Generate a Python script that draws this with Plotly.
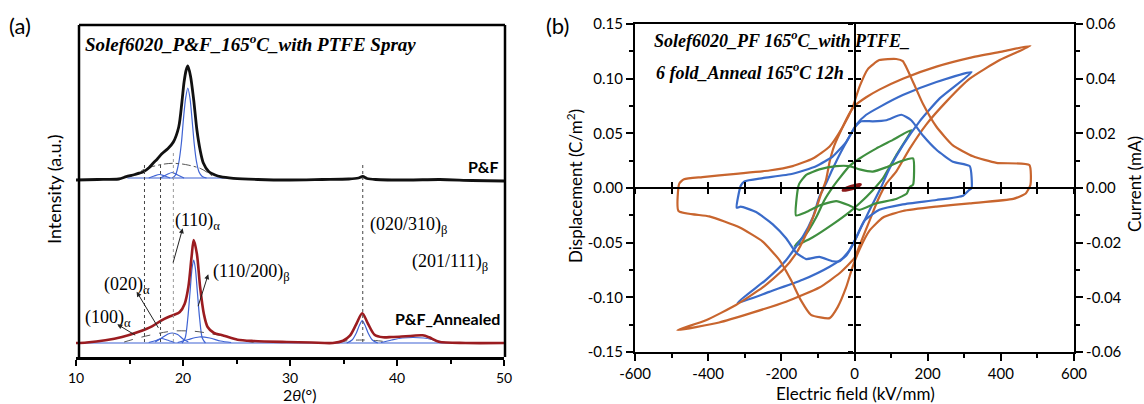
import plotly.graph_objects as go

# ================= DATA =================
# ---- Panel (a): XRD patterns (2theta in degrees, intensity in a.u.) ----
pf_tt = [10, 12, 14, 14.7, 15.5, 16.3, 16.8, 17.2, 17.6, 18.0, 18.6, 19.1, 19.6, 19.9, 20.1,
         20.3, 20.45, 20.7, 21.0, 21.3, 21.6, 21.9, 22.4, 23.0, 23.5, 24.7, 27, 30, 33, 35.5,
         36.4, 36.8, 37.2, 38, 41, 44, 47, 50]
pf_int = [0, 0.05, 0.1, 0.33, 0.55, 0.83, 1.2, 1.67, 2.1, 2.6, 3.15, 3.8, 5.3, 7.8, 9.8,
          11.0, 11.4, 10.4, 8.0, 5.0, 3.0, 1.7, 0.85, 0.5, 0.33, 0.17, 0.05, 0, 0.05, 0.1,
          0.2, 0.35, 0.15, 0.05, 0, 0.05, -0.05, -0.1]

pf_main_tt = [19.0, 19.3, 19.6, 19.85, 20.05, 20.25, 20.45, 20.65, 20.85, 21.05, 21.25, 21.5, 21.8, 22.2]
pf_main_int = [0.2, 0.5, 1.7, 3.7, 6.2, 8.2, 9.2, 8.2, 6.0, 3.6, 1.9, 0.8, 0.35, 0.2]
pf_a1_tt = [16.8, 17.3, 17.8, 18.3, 18.8]
pf_a1_int = [0.2, 0.4, 0.55, 0.4, 0.2]
pf_a2_tt = [17.9, 18.5, 19.0, 19.5, 20.1]
pf_a2_int = [0.2, 0.55, 0.75, 0.5, 0.2]
pf_base_tt = [14.8, 24.8]
pf_base_int = [0.2, 0.2]
pf_amorph_tt = [15.1, 16.6, 18.1, 19.0, 20.1, 21.6, 22.4, 22.9]
pf_amorph_int = [0.33, 1.17, 1.57, 1.67, 1.57, 1.17, 0.67, 0.27]

an_tt = [10, 11, 12.75, 14.3, 15.8, 17.1, 18.0, 18.8, 19.2, 19.7, 20.15, 20.5, 20.8, 21.0,
         21.3, 21.6, 21.95, 22.3, 22.9, 23.6, 24.0, 25.1, 26.6, 29.7, 32, 34.0, 34.96, 35.6,
         36.2, 36.75, 37.3, 37.9, 38.7, 39.5, 40.2, 41.5, 42.4, 43.0, 43.9, 46.4, 50]
an_int = [0, 0.05, 0.27, 0.6, 1.1, 1.67, 2.27, 2.67, 2.83, 3.1, 3.9, 5.6, 8.6, 10.3,
          8.9, 5.6, 2.9, 1.6, 1.0, 0.8, 0.67, 0.33, 0.2, 0.1, 0.05, 0, 0.23, 0.73,
          1.9, 2.97, 1.9, 0.83, 0.57, 0.6, 0.63, 0.73, 0.77, 0.57, 0.13, 0, 0]

an_beta_tt = [19.9, 20.2, 20.45, 20.65, 20.85, 21.0, 21.15, 21.35, 21.55, 21.8, 22.1]
an_beta_int = [0, 0.5, 2.5, 5.0, 7.5, 8.3, 7.5, 5.0, 2.5, 0.5, 0]
an_a020_tt = [17.4, 18.0, 18.6, 19.0, 19.5, 20.0, 20.5]
an_a020_int = [0.1, 0.5, 0.9, 1.0, 0.85, 0.4, 0.1]
an_a100_tt = [16.8, 17.5, 18.0, 18.5, 19.2]
an_a100_int = [0.05, 0.25, 0.45, 0.3, 0.05]
an_broad_tt = [19.5, 20.5, 21.5, 22.5, 23.5, 24.5]
an_broad_int = [0.05, 0.35, 0.6, 0.5, 0.2, 0.05]
an_amorph_tt = [14.5, 15.8, 17.4, 19.1, 21.1, 22.6, 24.2, 25.4, 26.6]
an_amorph_int = [0.1, 0.5, 0.9, 1.2, 1.17, 0.93, 0.6, 0.27, 0.07]
an_b020_tt = [35.3, 35.8, 36.2, 36.5, 36.75, 37.0, 37.3, 37.7, 38.2]
an_b020_int = [0, 0.3, 1.0, 1.8, 2.23, 1.8, 1.0, 0.3, 0]
an_b201_tt = [38.5, 39.5, 40.5, 41.5, 42.5, 43.5, 44.5]
an_b201_int = [0.05, 0.3, 0.5, 0.55, 0.5, 0.3, 0.05]
an_amorph2_tt = [34.5, 35.5, 36.8, 38.0, 39.5]
an_amorph2_int = [0.05, 0.25, 0.3, 0.25, 0.05]
an_base_tt = [10, 50]
an_base_int = [0, 0]

peak_lines_tt = [16.4, 17.9, 19.1, 36.8]

xrd_ticks = [10, 20, 30, 40, 50]
xrd_ticklabels = ["10", "20", "30", "40", "50"]

# ---- Panel (b): D-E loops (kV/mm, C/m^2) and current loops (mA) ----
pe_or_E = [481, 406, 315, 224, 132, 68, 32, 0, -14, -32, -55, -68, -78, -91, -110, -132, -160,
           -196, -251, -324, -406, -484, -370, -279, -187, -96, -41, 0, 18, 41, 64, 87, 114,
           151, 196, 251, 315, 397, 481]
pe_or_D = [0.130, 0.125, 0.119, 0.111, 0.100, 0.090, 0.083, 0.075, 0.068, 0.056, 0.039, 0.024,
           0.007, -0.005, -0.024, -0.042, -0.060, -0.075, -0.091, -0.107, -0.121, -0.130,
           -0.123, -0.114, -0.104, -0.091, -0.078, -0.064, -0.049, -0.030, -0.011, 0.004,
           0.015, 0.036, 0.058, 0.079, 0.100, 0.117, 0.130]
pe_bl_E = [320, 224, 132, 68, 32, 5, -14, -37, -59, -78, -96, -114, -142, -187, -242, -320,
           -233, -142, -68, -23, 0, 18, 46, 73, 96, 132, 178, 233, 320]
pe_bl_D = [0.106, 0.097, 0.085, 0.074, 0.067, 0.058, 0.047, 0.033, 0.018, 0.004, -0.008,
           -0.027, -0.045, -0.066, -0.084, -0.105, -0.095, -0.084, -0.072, -0.062, -0.049,
           -0.036, -0.017, 0.001, 0.018, 0.039, 0.061, 0.082, 0.106]
pe_gr_E = [155, 105, 59, 14, -14, -41, -59, -82, -105, -132, -164, -114, -59, -14, 14, 50, 78, 114, 155]
pe_gr_D = [0.053, 0.044, 0.036, 0.027, 0.020, 0.009, 0.001, -0.011, -0.027, -0.042, -0.053,
           -0.045, -0.033, -0.022, -0.014, -0.002, 0.009, 0.030, 0.053]
pe_dr_E = [-30, -10, 15, -5, -30]
pe_dr_D = [-0.002, 0.001, 0.003, 0.000, -0.002]

i_or_E = [-481, -479, -466, -416, -324, -233, -169, -114, -68, -32, -5, 14, 37, 68, 114, 132,
          160, 187, 224, 269, 324, 388, 478, 481, 468, 434, 315, 224, 132, 78, 41, 14, -5,
          -23, -46, -68, -119, -146, -174, -205, -251, -315, -397, -481]
i_or_I = [-0.0084, 0.0016, 0.0032, 0.0040, 0.0052, 0.0064, 0.0080, 0.0108, 0.0152, 0.0224,
          0.0296, 0.0372, 0.0436, 0.0468, 0.0472, 0.0464, 0.0388, 0.0308, 0.0224, 0.0156,
          0.0116, 0.0092, 0.0084, 0.0012, -0.0020, -0.0040, -0.0056, -0.0068, -0.0084,
          -0.0108, -0.0156, -0.0224, -0.0288, -0.0364, -0.0436, -0.0476, -0.0464, -0.0412,
          -0.0336, -0.0264, -0.0196, -0.0144, -0.0104, -0.0084]
i_bl_E = [-322, -311, -301, -251, -169, -105, -59, -23, 0, 18, 50, 87, 128, 155, 187, 224,
          269, 315, 320, 313, 297, 224, 132, 68, 27, 5, -14, -41, -59, -96, -132, -160, -187,
          -224, -269, -311, -322]
i_bl_I = [-0.0072, 0.0008, 0.0024, 0.0036, 0.0052, 0.0080, 0.0116, 0.0168, 0.0220, 0.0244,
          0.0244, 0.0248, 0.0268, 0.0248, 0.0192, 0.0140, 0.0096, 0.0080, 0.0000, -0.0008,
          -0.0028, -0.0044, -0.0060, -0.0080, -0.0120, -0.0180, -0.0228, -0.0268, -0.0268,
          -0.0252, -0.0260, -0.0236, -0.0184, -0.0132, -0.0088, -0.0068, -0.0072]
i_gr_E = [-160, -155, -151, -132, -96, -50, -14, 14, 50, 87, 123, 160, 160, 151, 143, 114, 59,
          14, -14, -50, -96, -132, -160]
i_gr_I = [-0.0100, -0.0004, 0.0016, 0.0048, 0.0068, 0.0080, 0.0080, 0.0068, 0.0060, 0.0076,
          0.0096, 0.0108, 0.0012, 0.0004, -0.0020, -0.0040, -0.0056, -0.0080, -0.0064,
          -0.0048, -0.0064, -0.0088, -0.0100]

e_ticks = [-600, -400, -200, 0, 200, 400, 600]
e_ticklabels = ["-600", "-400", "-200", "0", "200", "400", "600"]
d_ticks = [-0.15, -0.10, -0.05, 0.00, 0.05, 0.10, 0.15]
d_ticklabels = ["-0.15", "-0.10", "-0.05", "0.00", "0.05", "0.10", "0.15"]
i_ticks = [-0.06, -0.04, -0.02, 0.00, 0.02, 0.04, 0.06]
i_ticklabels = ["-0.06", "-0.04", "-0.02", "0.00", "0.02", "0.04", "0.06"]

# ================= STYLE / LAYOUT =================
W, H = 1144, 404
SANS = "Lato"
SERIF = "Liberation Serif"
PF_OFFSET = 16.3

BLACK = "#111111"
RED = "#9B1C20"
BLUE = "#3F63D3"
GRAY = "#555555"
OR = "#C8652E"
BL = "#3A6BC9"
GR = "#3F8F3F"
DR = "#8B1A1A"


def px(x):
    return x / W


def py(y):
    return 1 - y / H


fig = go.Figure()


def comp(x, y, color=BLUE, width=1.2, dash=None, off=0.0):
    fig.add_trace(go.Scatter(x=x, y=[v + off for v in y], mode="lines",
                             line=dict(color=color, width=width, dash=dash, shape="spline", smoothing=0.8),
                             xaxis="x", yaxis="y", hoverinfo="skip", showlegend=False))


# annealed components first (beneath curve)
comp(an_base_tt, an_base_int)
for tt, ii in [(an_beta_tt, an_beta_int), (an_a020_tt, an_a020_int), (an_a100_tt, an_a100_int),
               (an_broad_tt, an_broad_int), (an_b020_tt, an_b020_int), (an_b201_tt, an_b201_int)]:
    comp(tt, ii)
comp(an_amorph_tt, an_amorph_int, color=GRAY, width=1, dash="dash")
comp(an_amorph2_tt, an_amorph2_int, color=GRAY, width=1, dash="dash")
comp(an_tt, an_int, color=RED, width=2.6)

# P&F
comp(pf_base_tt, pf_base_int, off=PF_OFFSET)
for tt, ii in [(pf_main_tt, pf_main_int), (pf_a1_tt, pf_a1_int), (pf_a2_tt, pf_a2_int)]:
    comp(tt, ii, off=PF_OFFSET)
comp(pf_amorph_tt, pf_amorph_int, color=GRAY, width=1, dash="dashdot", off=PF_OFFSET)
comp(pf_tt, pf_int, color=BLACK, width=2.8, off=PF_OFFSET)


# ---- panel (b) traces ----
def loop(x, y, color, yaxis, width=2.2):
    fig.add_trace(go.Scatter(x=x, y=y, mode="lines",
                             line=dict(color=color, width=width, shape="spline", smoothing=0.5),
                             xaxis="x2", yaxis=yaxis, hoverinfo="skip", showlegend=False))


loop(i_gr_E, i_gr_I, GR, "y3")
loop(pe_gr_E, pe_gr_D, GR, "y2")
loop(i_bl_E, i_bl_I, BL, "y3")
loop(pe_bl_E, pe_bl_D, BL, "y2")
loop(i_or_E, i_or_I, OR, "y3")
loop(pe_or_E, pe_or_D, OR, "y2")
loop(pe_dr_E, pe_dr_D, DR, "y2", width=4)

# dummy traces so the crossing center axes are drawn
for xa, ya in [("x3", "y2"), ("x4", "y2"), ("x2", "y4"), ("x2", "y5")]:
    fig.add_trace(go.Scatter(x=[None], y=[None], xaxis=xa, yaxis=ya, showlegend=False, hoverinfo="skip"))

# ---- axes ----
A_DOM_X = [px(76), px(504)]
A_DOM_Y = [py(357), py(25)]
B_DOM_X = [px(635), px(1074)]
B_DOM_Y = [py(352), py(24)]
tickfont = dict(family=SANS, size=15, color="black")

fig.update_layout(
    width=W, height=H, margin=dict(l=0, r=0, t=0, b=0, pad=0, autoexpand=False), autosize=False,
    paper_bgcolor="white", plot_bgcolor="rgba(0,0,0,0)", showlegend=False,
    xaxis=dict(domain=A_DOM_X, range=[10, 50], anchor="y", showline=True, linecolor="black",
               linewidth=2.5, ticks="outside", ticklen=6, tickwidth=2, tickcolor="black",
               tickmode="array", tickvals=xrd_ticks, ticktext=xrd_ticklabels,
               tickfont=dict(family=SANS, size=14, color="black"),
               minor=dict(tickmode="linear", tick0=0, dtick=5, ticks="outside", ticklen=4,
                          tickwidth=2, tickcolor="black"),
               showgrid=False, zeroline=False, automargin=False),
    yaxis=dict(domain=A_DOM_Y, range=[-1.4, 31.8], anchor="x", showline=False, showticklabels=False,
               ticks="", showgrid=False, zeroline=False, automargin=False),
    xaxis2=dict(domain=B_DOM_X, range=[-600, 600], anchor="y2", showline=True, mirror=True,
                linecolor="black", linewidth=2.2, ticks="outside", ticklen=7, tickwidth=2,
                tickcolor="black", tickmode="array", tickvals=e_ticks, ticktext=e_ticklabels,
                tickfont=tickfont,
                minor=dict(tickmode="linear", tick0=0, dtick=100, ticks="outside", ticklen=4,
                           tickwidth=2, tickcolor="black"),
                showgrid=False, zeroline=False, automargin=False),
    yaxis2=dict(domain=B_DOM_Y, range=[-0.15, 0.15], anchor="x2", showline=True,
                linecolor="black", linewidth=2.2, ticks="outside", ticklen=7, tickwidth=2,
                tickcolor="black", tickmode="array", tickvals=d_ticks, ticktext=d_ticklabels,
                tickfont=tickfont,
                minor=dict(tickmode="linear", tick0=0, dtick=0.025, ticks="outside", ticklen=4,
                           tickwidth=2, tickcolor="black"),
                showgrid=False, zeroline=False, automargin=False),
    yaxis3=dict(overlaying="y2", side="right", anchor="x2", range=[-0.06, 0.06], showline=True,
                linecolor="black", linewidth=2.2, ticks="outside", ticklen=7, tickwidth=2,
                tickcolor="black", tickmode="array", tickvals=i_ticks, ticktext=i_ticklabels,
                tickfont=tickfont,
                minor=dict(tickmode="linear", tick0=0, dtick=0.01, ticks="outside", ticklen=4,
                           tickwidth=2, tickcolor="black"),
                showgrid=False, zeroline=False, automargin=False),
)

center_common = dict(showline=True, linecolor="black", linewidth=2.2, tickwidth=2, tickcolor="black",
                     showticklabels=False, showgrid=False, zeroline=False, automargin=False)
ymid = (B_DOM_Y[0] + B_DOM_Y[1]) / 2
xmid = (B_DOM_X[0] + B_DOM_X[1]) / 2
fig.update_layout(
    xaxis3=dict(overlaying="x2", anchor="free", position=ymid, range=[-600, 600], ticks="outside",
                ticklen=5, tickmode="linear", tick0=0, dtick=100, **center_common),
    xaxis4=dict(overlaying="x2", anchor="free", position=ymid, range=[-600, 600], ticks="inside",
                ticklen=5, tickmode="linear", tick0=0, dtick=100, **center_common),
    yaxis4=dict(overlaying="y2", anchor="free", position=xmid, range=[-0.15, 0.15], ticks="outside",
                ticklen=5, tickmode="linear", tick0=0, dtick=0.025, **center_common),
    yaxis5=dict(overlaying="y2", anchor="free", position=xmid, range=[-0.15, 0.15], ticks="inside",
                ticklen=5, tickmode="linear", tick0=0, dtick=0.025, **center_common),
)

# ---- shapes: frame of panel (a) and peak marker lines ----
shapes = [
    dict(type="line", xref="paper", yref="paper", x0=px(79), x1=px(79), y0=py(357), y1=py(25),
         line=dict(color="black", width=2.5)),
    dict(type="line", xref="paper", yref="paper", x0=px(79), x1=px(505), y0=py(25), y1=py(25),
         line=dict(color="black", width=2.5)),
    dict(type="line", xref="paper", yref="paper", x0=px(505), x1=px(505), y0=py(357), y1=py(25),
         line=dict(color="black", width=2.5)),
]
peak_tops = [18.1, 18.1, 19.2, 18.1]
peak_cols = ["#444444", "#444444", "#999999", "#444444"]
for t, top, c in zip(peak_lines_tt, peak_tops, peak_cols):
    shapes.append(dict(type="line", xref="x", yref="y", x0=t, x1=t, y0=0.1, y1=top,
                       line=dict(color=c, width=1, dash="dot")))
fig.update_layout(shapes=shapes)

# ---- annotations ----
ann = []


def text(x, y, s, font, xanchor="left", yanchor="middle", angle=0):
    ann.append(dict(x=px(x), y=py(y), xref="paper", yref="paper", text=s, showarrow=False,
                    font=font, xanchor=xanchor, yanchor=yanchor, textangle=angle, borderpad=0))


serif = dict(family=SERIF, size=18, color="black")
title_font = dict(family=SERIF, size=19, color="black")
text(8, 25, "(a)", dict(family=SANS, size=22, color="black"))
text(545, 25, "(b)", dict(family=SANS, size=22, color="black"))
text(84, 43, "<b><i>Solef6020_P&amp;F_165<sup>o</sup>C_with PTFE Spray</i></b>", title_font)
text(653, 40, "<b><i>Solef6020_PF 165<sup>o</sup>C_with PTFE_</i></b>", dict(family=SERIF, size=18, color="black"))
text(655, 72, "<b><i>6 fold_Anneal 165<sup>o</sup>C 12h</i></b>", dict(family=SERIF, size=18, color="black"))
text(499, 167, "<b>P&amp;F</b>", dict(family=SANS, size=16, color="black"), xanchor="right")
text(501, 318, "<b>P&amp;F_Annealed</b>", dict(family=SANS, size=16, color="black"), xanchor="right")
text(174, 221, "(110)<sub>α</sub>", serif)
text(369, 225, "(020/310)<sub>β</sub>", serif)
text(411, 262, "(201/111)<sub>β</sub>", serif)
text(212, 272, "(110/200)<sub>β</sub>", serif)
text(103, 285, "(020)<sub>α</sub>", serif)
text(84, 318, "(100)<sub>α</sub>", serif)

axis_title = dict(family=SANS, size=17, color="black")
text(54, 189, "Intensity (a.u.)", dict(family=SANS, size=18, color="black"), xanchor="center", angle=-90)
text(299, 394, "2<i>θ</i>(°)", dict(family=SANS, size=16, color="black"), xanchor="center")
text(855, 393, "Electric field (kV/mm)", axis_title, xanchor="center")
text(574, 186, "Displacement (C/m<sup>2</sup>)", axis_title, xanchor="center", angle=-90)
text(1135, 184, "Current (mA)", axis_title, xanchor="center", angle=-90)

# arrows (head at label side, tail near peak) in data coords of panel (a)
arrows = [((19.97, 11.47), (19.04, 7.9)),
          ((22.36, 6.87), (21.37, 3.53)),
          ((15.67, 5.13), (17.78, 1.37)),
          ((13.86, 1.87), (15.67, 0.7))]
for (hx, hy), (tx, ty) in arrows:
    ann.append(dict(x=hx, y=hy, ax=tx, ay=ty, xref="x", yref="y", axref="x", ayref="y", text="",
                    showarrow=True, arrowhead=2, arrowsize=1, arrowwidth=1, arrowcolor="#222222"))

fig.update_layout(annotations=ann)

fig.write_html("out.html")
